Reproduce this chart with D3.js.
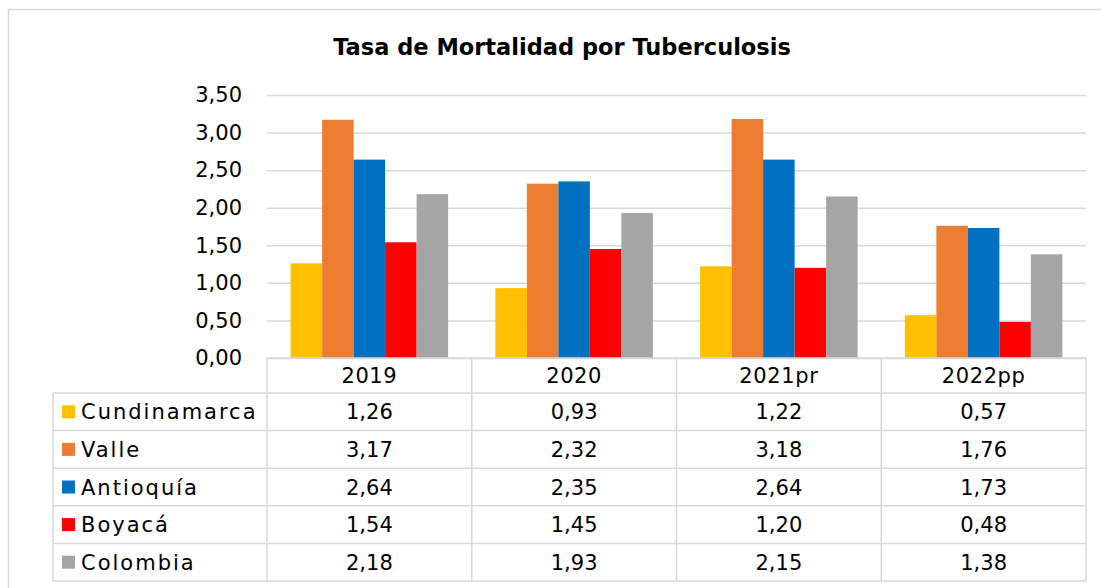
<!DOCTYPE html>
<html>
<head>
<meta charset="utf-8">
<script src="https://cdn.jsdelivr.net/npm/d3@7"></script>
<style>
  body { margin: 0; background: #fff; }
  svg text { font-family: "DejaVu Sans", sans-serif; fill: #000; }
</style>
</head>
<body>
<div id="chart"></div>
<script>
// data
var years = ["2019", "2020", "2021pr", "2022pp"];
var series = ["Cundinamarca", "Valle", "Antioquía", "Boyacá", "Colombia"];
var colors = ["#FFC000", "#ED7D31", "#0070C0", "#FF0000", "#A5A5A5"];
var cundinamarca = [1.26, 0.93, 1.22, 0.57];
var valle = [3.17, 2.32, 3.18, 1.76];
var antioquia = [2.64, 2.35, 2.64, 1.73];
var boyaca = [1.54, 1.45, 1.20, 0.48];
var colombia = [2.18, 1.93, 2.15, 1.38];
var yTicks = [0, 0.5, 1, 1.5, 2, 2.5, 3, 3.5];

var values = [cundinamarca, valle, antioquia, boyaca, colombia];

var locale = d3.formatLocale({decimal: ",", thousands: ".", grouping: [3], currency: ["", ""]});
var fmt = locale.format(".2f");

var width = 1101, height = 588;
var plotLeft = 267, plotRight = 1086, plotTop = 95, plotBottom = 358;
var headerH = 35, rowH = 37.6, legendLeft = 53;
var gridColor = "#d9d9d9";
var fontSize = "21px";

var svg = d3.select("#chart").append("svg")
    .attr("width", width)
    .attr("height", height);

// outer chart frame (runs past the picture to the right and bottom)
svg.append("rect")
    .attr("x", 8.5).attr("y", 9.5)
    .attr("width", 1200).attr("height", 700)
    .attr("fill", "none")
    .attr("stroke", gridColor)
    .attr("stroke-width", 1.5);

// title
svg.append("text")
    .attr("x", 562).attr("y", 55)
    .attr("text-anchor", "middle")
    .style("font-size", "22.5px")
    .style("font-weight", "bold")
    .text("Tasa de Mortalidad por Tuberculosis");

// scales
var x = d3.scaleBand().domain(years).range([plotLeft, plotRight]).padding(0);
var x1 = d3.scaleBand().domain(series).range([0, x.bandwidth()])
    .paddingInner(0).paddingOuter(0.75);
var y = d3.scaleLinear().domain([0, 3.5]).range([plotBottom, plotTop]);

// gridlines + y axis labels
var yAxis = d3.axisLeft(y)
    .tickValues(yTicks)
    .tickSize(-(plotRight - plotLeft))
    .tickPadding(25)
    .tickFormat(fmt);

var gy = svg.append("g")
    .attr("transform", "translate(" + plotLeft + ",0)")
    .call(yAxis);
gy.select(".domain").remove();
gy.selectAll(".tick line").attr("stroke", gridColor).attr("stroke-width", 1.5);
gy.selectAll(".tick text")
    .style("font-size", fontSize)
    .style("font-family", "DejaVu Sans, sans-serif")
    .attr("fill", "#000");

// bars
var groups = svg.selectAll("g.year")
    .data(years)
  .enter().append("g")
    .attr("class", "year")
    .attr("transform", function(d) { return "translate(" + x(d) + ",0)"; });

groups.selectAll("rect")
    .data(function(d, i) {
      return series.map(function(s, j) { return {name: s, value: values[j][i], color: colors[j]}; });
    })
  .enter().append("rect")
    .attr("x", function(d) { return x1(d.name); })
    .attr("width", x1.bandwidth())
    .attr("y", function(d) { return y(d.value); })
    .attr("height", function(d) { return plotBottom - y(d.value); })
    .attr("fill", function(d) { return d.color; });

// data table
var tableTop = plotBottom;
var bodyTop = tableTop + headerH;
var tableBottom = bodyTop + rowH * series.length;
var table = svg.append("g").attr("class", "table");

function hline(x0, x1_, yy) {
  table.append("line")
      .attr("x1", x0).attr("x2", x1_)
      .attr("y1", yy).attr("y2", yy)
      .attr("stroke", gridColor).attr("stroke-width", 1.5);
}
function vline(xx, y0, y1) {
  table.append("line")
      .attr("x1", xx).attr("x2", xx)
      .attr("y1", y0).attr("y2", y1)
      .attr("stroke", gridColor).attr("stroke-width", 1.5);
}

hline(plotLeft, plotRight, tableTop);
for (var r = 0; r <= series.length; r++) {
  hline(legendLeft, plotRight, bodyTop + r * rowH);
}
vline(legendLeft, bodyTop, tableBottom);
years.forEach(function(yr) { vline(x(yr), tableTop, tableBottom); });
vline(plotRight, tableTop, tableBottom);

// header
table.selectAll("text.head")
    .data(years)
  .enter().append("text")
    .attr("class", "head")
    .attr("x", function(d) { return x(d) + x.bandwidth() / 2; })
    .attr("y", tableTop + headerH / 2)
    .attr("dy", "0.36em")
    .attr("text-anchor", "middle")
    .style("font-size", fontSize)
    .style("letter-spacing", "0.6px")
    .text(function(d) { return d; });

// rows
series.forEach(function(s, j) {
  var cy = bodyTop + j * rowH + rowH / 2;
  table.append("rect")
      .attr("x", 62).attr("y", cy - 6.5)
      .attr("width", 13).attr("height", 13)
      .attr("fill", colors[j]);
  table.append("text")
      .attr("x", 81).attr("y", cy)
      .attr("dy", "0.36em")
      .style("font-size", fontSize)
      .style("letter-spacing", "2px")
      .text(s);
  years.forEach(function(yr, i) {
    table.append("text")
        .attr("x", x(yr) + x.bandwidth() / 2)
        .attr("y", cy)
        .attr("dy", "0.36em")
        .attr("text-anchor", "middle")
        .style("font-size", fontSize)
        .text(fmt(values[j][i]));
  });
});
</script>
</body>
</html>
